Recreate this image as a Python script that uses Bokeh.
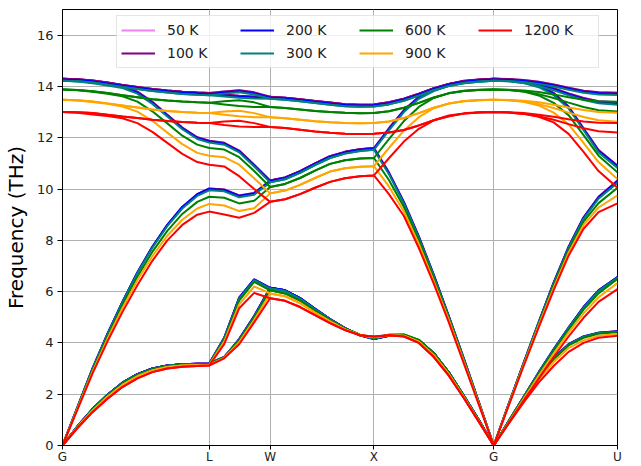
from bokeh.plotting import figure
from bokeh.models import FixedTicker, Legend, LegendItem, Range1d
from bokeh.embed import file_html
from bokeh.resources import INLINE

# path coordinate (distance along G-L-W-X-G-U)
kpath = [0.0, 0.15, 0.30, 0.45, 0.60, 0.75, 0.90, 1.05, 1.20, 1.35, 1.47,
         1.62, 1.77, 1.92, 2.08,
         2.23, 2.38, 2.53, 2.68, 2.83, 2.98, 3.12,
         3.27, 3.42, 3.57, 3.72, 3.87, 4.02, 4.17, 4.32,
         4.47, 4.62, 4.77, 4.92, 5.07, 5.22, 5.37, 5.56]
tick_pos = [0.0, 1.47, 2.08, 3.12, 4.32, 5.56]
tick_labels = ["G", "L", "W", "X", "G", "U"]

temps = ["50 K", "100 K", "200 K", "300 K", "600 K", "900 K", "1200 K"]
colors = ["violet", "purple", "blue", "teal", "green", "orange", "red"]

# ---- 50 K (hidden under 100 K) ----
t50 = [
 [0, 0.75, 1.42, 1.98, 2.45, 2.78, 3.0, 3.12, 3.17, 3.19, 3.2, 3.45, 4.15, 5.05, 6.15,
  6.05, 5.75, 5.33, 4.93, 4.58, 4.3, 4.15, 4.28, 4.3, 4.1, 3.6, 2.85, 1.95, 1.0, 0,
  0.93, 1.83, 2.7, 3.42, 3.95, 4.25, 4.4, 4.45],
 [0, 0.75, 1.42, 1.98, 2.45, 2.78, 3.0, 3.12, 3.17, 3.19, 3.2, 4.2, 5.77, 6.48, 6.15,
  6.05, 5.75, 5.33, 4.93, 4.58, 4.3, 4.15, 4.28, 4.3, 4.1, 3.6, 2.85, 1.95, 1.0, 0,
  0.95, 1.9, 2.85, 3.75, 4.6, 5.4, 6.05, 6.57],
 [0, 1.5, 3.0, 4.35, 5.6, 6.75, 7.75, 8.6, 9.3, 9.8, 10.02, 9.98, 9.75, 9.85, 10.33,
  10.45, 10.7, 11.0, 11.28, 11.45, 11.55, 11.6, 10.65, 9.5, 8.15, 6.65, 5.05, 3.4, 1.7, 0,
  1.62, 3.22, 4.8, 6.35, 7.75, 8.9, 9.7, 10.33],
 [14.3, 14.27, 14.2, 14.12, 14.02, 13.8, 13.4, 12.9, 12.4, 12.02, 11.88, 11.8, 11.5, 10.95, 10.33,
  10.45, 10.7, 11.0, 11.28, 11.45, 11.55, 11.6, 12.37, 13.08, 13.6, 13.9, 14.1, 14.22, 14.27, 14.3,
  14.28, 14.21, 14.05, 13.75, 13.22, 12.37, 11.52, 10.91],
 [14.3, 14.28, 14.23, 14.15, 14.06, 13.98, 13.9, 13.84, 13.79, 13.76, 13.74, 13.69, 13.64, 13.61, 13.6,
  13.56, 13.5, 13.43, 13.37, 13.31, 13.29, 13.3, 13.38, 13.52, 13.72, 13.93, 14.1, 14.2, 14.26, 14.3,
  14.28, 14.21, 14.1, 13.93, 13.73, 13.55, 13.42, 13.37],
 [14.3, 14.28, 14.23, 14.15, 14.06, 13.98, 13.9, 13.84, 13.79, 13.76, 13.74, 13.8, 13.85, 13.77, 13.6,
  13.56, 13.5, 13.43, 13.37, 13.31, 13.29, 13.3, 13.38, 13.52, 13.72, 13.93, 14.1, 14.2, 14.26, 14.3,
  14.29, 14.25, 14.18, 14.08, 13.95, 13.83, 13.77, 13.75],
]

# ---- 100 K ----
t100 = [
 [0, 0.75, 1.42, 1.98, 2.45, 2.78, 3.0, 3.12, 3.17, 3.19, 3.2, 3.45, 4.15, 5.05, 6.15,
  6.05, 5.75, 5.33, 4.93, 4.58, 4.3, 4.15, 4.28, 4.3, 4.1, 3.6, 2.85, 1.95, 1.0, 0,
  0.93, 1.83, 2.7, 3.42, 3.95, 4.25, 4.4, 4.45],
 [0, 0.75, 1.42, 1.98, 2.45, 2.78, 3.0, 3.12, 3.17, 3.19, 3.2, 4.2, 5.77, 6.48, 6.15,
  6.05, 5.75, 5.33, 4.93, 4.58, 4.3, 4.15, 4.28, 4.3, 4.1, 3.6, 2.85, 1.95, 1.0, 0,
  0.95, 1.9, 2.85, 3.75, 4.6, 5.4, 6.05, 6.57],
 [0, 1.5, 3.0, 4.35, 5.6, 6.75, 7.75, 8.6, 9.3, 9.8, 10.02, 9.98, 9.75, 9.85, 10.33,
  10.45, 10.7, 11.0, 11.28, 11.45, 11.55, 11.6, 10.65, 9.5, 8.15, 6.65, 5.05, 3.4, 1.7, 0,
  1.62, 3.22, 4.8, 6.35, 7.75, 8.9, 9.7, 10.33],
 [14.3, 14.27, 14.2, 14.12, 14.02, 13.8, 13.4, 12.9, 12.4, 12.02, 11.88, 11.8, 11.5, 10.95, 10.33,
  10.45, 10.7, 11.0, 11.28, 11.45, 11.55, 11.6, 12.37, 13.08, 13.6, 13.9, 14.1, 14.22, 14.27, 14.3,
  14.28, 14.21, 14.05, 13.75, 13.22, 12.37, 11.52, 10.91],
 [14.3, 14.28, 14.23, 14.15, 14.06, 13.98, 13.9, 13.84, 13.79, 13.76, 13.74, 13.69, 13.64, 13.61, 13.6,
  13.56, 13.5, 13.43, 13.37, 13.31, 13.29, 13.3, 13.38, 13.52, 13.72, 13.93, 14.1, 14.2, 14.26, 14.3,
  14.28, 14.21, 14.1, 13.93, 13.73, 13.55, 13.42, 13.37],
 [14.3, 14.28, 14.23, 14.15, 14.06, 13.98, 13.9, 13.84, 13.79, 13.76, 13.74, 13.8, 13.85, 13.77, 13.6,
  13.56, 13.5, 13.43, 13.37, 13.31, 13.29, 13.3, 13.38, 13.52, 13.72, 13.93, 14.1, 14.2, 14.26, 14.3,
  14.29, 14.25, 14.18, 14.08, 13.95, 13.83, 13.77, 13.75],
]

# ---- 200 K ----
t200 = [
 [0, 0.75, 1.42, 1.98, 2.45, 2.78, 3.0, 3.12, 3.17, 3.19, 3.2, 3.45, 4.15, 5.05, 6.15,
  6.05, 5.75, 5.33, 4.93, 4.58, 4.3, 4.16, 4.28, 4.3, 4.1, 3.6, 2.85, 1.95, 1.0, 0,
  0.93, 1.83, 2.7, 3.42, 3.95, 4.25, 4.4, 4.45],
 [0, 0.75, 1.42, 1.98, 2.45, 2.78, 3.0, 3.12, 3.17, 3.19, 3.2, 4.2, 5.77, 6.48, 6.15,
  6.05, 5.75, 5.33, 4.93, 4.58, 4.3, 4.16, 4.28, 4.3, 4.1, 3.6, 2.85, 1.95, 1.0, 0,
  0.95, 1.9, 2.85, 3.75, 4.6, 5.4, 6.05, 6.57],
 [0, 1.5, 3.0, 4.35, 5.6, 6.75, 7.75, 8.6, 9.3, 9.8, 10.0, 9.96, 9.73, 9.83, 10.3,
  10.42, 10.67, 10.97, 11.25, 11.42, 11.52, 11.57, 10.62, 9.47, 8.13, 6.63, 5.04, 3.39, 1.7, 0,
  1.62, 3.22, 4.8, 6.34, 7.73, 8.88, 9.67, 10.3],
 [14.26, 14.23, 14.16, 14.08, 13.98, 13.76, 13.36, 12.87, 12.37, 11.99, 11.85, 11.77, 11.47, 10.92, 10.3,
  10.42, 10.67, 10.97, 11.25, 11.42, 11.52, 11.57, 12.33, 13.04, 13.56, 13.86, 14.06, 14.18, 14.23, 14.26,
  14.24, 14.17, 14.01, 13.71, 13.18, 12.33, 11.48, 10.88],
 [14.26, 14.24, 14.19, 14.11, 14.02, 13.94, 13.86, 13.8, 13.75, 13.72, 13.7, 13.65, 13.6, 13.57, 13.56,
  13.52, 13.46, 13.39, 13.33, 13.27, 13.25, 13.26, 13.34, 13.48, 13.68, 13.89, 14.06, 14.16, 14.22, 14.26,
  14.24, 14.17, 14.06, 13.89, 13.69, 13.51, 13.38, 13.33],
 [14.26, 14.24, 14.19, 14.11, 14.02, 13.94, 13.86, 13.8, 13.75, 13.72, 13.7, 13.76, 13.81, 13.73, 13.56,
  13.52, 13.46, 13.39, 13.33, 13.27, 13.25, 13.26, 13.34, 13.48, 13.68, 13.89, 14.06, 14.16, 14.22, 14.26,
  14.25, 14.21, 14.14, 14.04, 13.91, 13.79, 13.73, 13.71],
]

# ---- 300 K ----
t300 = [
 [0, 0.74, 1.41, 1.97, 2.44, 2.77, 2.99, 3.11, 3.16, 3.18, 3.19, 3.45, 4.13, 5.02, 6.12,
  6.02, 5.72, 5.31, 4.92, 4.57, 4.3, 4.17, 4.29, 4.31, 4.11, 3.6, 2.85, 1.94, 0.99, 0,
  0.93, 1.82, 2.69, 3.4, 3.93, 4.24, 4.39, 4.44],
 [0, 0.74, 1.41, 1.97, 2.44, 2.77, 2.99, 3.11, 3.16, 3.18, 3.19, 4.18, 5.73, 6.45, 6.12,
  6.02, 5.72, 5.31, 4.92, 4.57, 4.3, 4.17, 4.29, 4.31, 4.11, 3.6, 2.85, 1.94, 0.99, 0,
  0.95, 1.9, 2.84, 3.73, 4.58, 5.37, 6.02, 6.55],
 [0, 1.5, 2.99, 4.33, 5.58, 6.72, 7.71, 8.55, 9.24, 9.73, 9.95, 9.91, 9.68, 9.78, 10.26,
  10.38, 10.63, 10.93, 11.21, 11.38, 11.48, 11.53, 10.58, 9.43, 8.1, 6.61, 5.03, 3.38, 1.69, 0,
  1.61, 3.21, 4.79, 6.32, 7.7, 8.84, 9.62, 10.24],
 [14.22, 14.19, 14.12, 14.04, 13.94, 13.72, 13.32, 12.83, 12.33, 11.95, 11.81, 11.73, 11.43, 10.88, 10.26,
  10.38, 10.63, 10.93, 11.21, 11.38, 11.48, 11.53, 12.29, 13.0, 13.52, 13.82, 14.02, 14.14, 14.19, 14.22,
  14.2, 14.13, 13.97, 13.67, 13.14, 12.29, 11.43, 10.82],
 [14.22, 14.2, 14.15, 14.07, 13.98, 13.9, 13.82, 13.76, 13.71, 13.68, 13.66, 13.61, 13.56, 13.53, 13.52,
  13.48, 13.42, 13.35, 13.29, 13.23, 13.21, 13.22, 13.3, 13.44, 13.64, 13.85, 14.02, 14.12, 14.18, 14.22,
  14.2, 14.13, 14.02, 13.85, 13.65, 13.47, 13.34, 13.29],
 [14.22, 14.2, 14.15, 14.07, 13.98, 13.9, 13.82, 13.76, 13.71, 13.68, 13.66, 13.72, 13.77, 13.69, 13.52,
  13.48, 13.42, 13.35, 13.29, 13.23, 13.21, 13.22, 13.3, 13.44, 13.64, 13.85, 14.02, 14.12, 14.18, 14.22,
  14.21, 14.17, 14.1, 14.0, 13.87, 13.75, 13.69, 13.67],
]

# ---- 600 K ----
t600 = [
 [0, 0.73, 1.39, 1.94, 2.41, 2.74, 2.97, 3.09, 3.15, 3.17, 3.18, 3.44, 4.1, 4.98, 6.05,
  5.93, 5.65, 5.25, 4.88, 4.56, 4.32, 4.2, 4.32, 4.33, 4.12, 3.6, 2.84, 1.93, 0.98, 0,
  0.92, 1.8, 2.66, 3.36, 3.9, 4.2, 4.36, 4.42],
 [0, 0.73, 1.39, 1.94, 2.41, 2.74, 2.97, 3.09, 3.15, 3.17, 3.18, 4.12, 5.65, 6.38, 6.05,
  5.93, 5.65, 5.25, 4.88, 4.56, 4.32, 4.2, 4.32, 4.33, 4.12, 3.6, 2.84, 1.93, 0.98, 0,
  0.93, 1.87, 2.8, 3.68, 4.52, 5.3, 5.93, 6.5],
 [0, 1.47, 2.93, 4.25, 5.47, 6.58, 7.55, 8.37, 9.03, 9.5, 9.7, 9.66, 9.44, 9.54, 10.08,
  10.2, 10.43, 10.72, 10.98, 11.12, 11.19, 11.21, 10.35, 9.3, 8.0, 6.52, 4.97, 3.33, 1.67, 0,
  1.6, 3.18, 4.73, 6.25, 7.63, 8.73, 9.45, 10.05],
 [13.88, 13.85, 13.79, 13.71, 13.62, 13.41, 13.03, 12.56, 12.08, 11.73, 11.6, 11.54, 11.24, 10.7, 10.08,
  10.2, 10.43, 10.72, 10.98, 11.12, 11.19, 11.21, 11.95, 12.65, 13.2, 13.55, 13.74, 13.83, 13.87, 13.88,
  13.86, 13.8, 13.65, 13.36, 12.88, 12.1, 11.3, 10.65],
 [13.88, 13.86, 13.81, 13.74, 13.66, 13.58, 13.5, 13.45, 13.41, 13.38, 13.36, 13.3, 13.24, 13.2, 13.2,
  13.16, 13.1, 13.04, 13.0, 12.97, 12.95, 12.96, 13.03, 13.17, 13.36, 13.57, 13.73, 13.82, 13.86, 13.88,
  13.86, 13.8, 13.7, 13.55, 13.37, 13.2, 13.07, 13.02],
 [13.88, 13.86, 13.81, 13.74, 13.66, 13.58, 13.5, 13.45, 13.41, 13.38, 13.36, 13.42, 13.46, 13.38, 13.2,
  13.16, 13.1, 13.04, 13.0, 12.97, 12.95, 12.96, 13.03, 13.17, 13.36, 13.57, 13.73, 13.82, 13.86, 13.88,
  13.87, 13.84, 13.78, 13.69, 13.58, 13.48, 13.42, 13.4],
]

# ---- 900 K ----
t900 = [
 [0, 0.71, 1.36, 1.9, 2.36, 2.7, 2.93, 3.06, 3.12, 3.14, 3.15, 3.42, 4.03, 4.9, 5.93,
  5.82, 5.55, 5.18, 4.84, 4.53, 4.31, 4.22, 4.3, 4.28, 4.05, 3.52, 2.78, 1.89, 0.95, 0,
  0.89, 1.75, 2.57, 3.25, 3.8, 4.1, 4.28, 4.35],
 [0, 0.71, 1.36, 1.9, 2.36, 2.7, 2.93, 3.06, 3.12, 3.14, 3.15, 4.05, 5.5, 6.2, 5.93,
  5.82, 5.55, 5.18, 4.84, 4.53, 4.31, 4.22, 4.3, 4.28, 4.05, 3.52, 2.78, 1.89, 0.95, 0,
  0.9, 1.82, 2.72, 3.58, 4.4, 5.15, 5.78, 6.33],
 [0, 1.44, 2.87, 4.16, 5.35, 6.44, 7.38, 8.18, 8.8, 9.24, 9.42, 9.36, 9.14, 9.25, 9.83,
  9.94, 10.16, 10.43, 10.68, 10.81, 10.87, 10.89, 10.1, 9.12, 7.85, 6.4, 4.9, 3.27, 1.64, 0,
  1.58, 3.14, 4.67, 6.15, 7.52, 8.6, 9.28, 9.75],
 [13.48, 13.45, 13.39, 13.32, 13.22, 13.02, 12.66, 12.2, 11.75, 11.41, 11.3, 11.24, 10.95, 10.42, 9.83,
  9.94, 10.16, 10.43, 10.68, 10.81, 10.87, 10.89, 11.6, 12.28, 12.8, 13.15, 13.34, 13.43, 13.47, 13.48,
  13.46, 13.4, 13.26, 12.98, 12.52, 11.8, 11.05, 10.39],
 [13.48, 13.46, 13.41, 13.34, 13.26, 13.18, 13.1, 13.04, 13.0, 12.97, 12.96, 12.9, 12.84, 12.8, 12.8,
  12.76, 12.7, 12.64, 12.6, 12.57, 12.56, 12.57, 12.63, 12.77, 12.96, 13.17, 13.33, 13.42, 13.46, 13.48,
  13.46, 13.41, 13.31, 13.16, 12.98, 12.81, 12.68, 12.62],
 [13.48, 13.46, 13.41, 13.34, 13.26, 13.18, 13.1, 13.04, 13.0, 12.97, 12.96, 13.02, 13.05, 12.96, 12.8,
  12.76, 12.7, 12.64, 12.6, 12.57, 12.56, 12.57, 12.63, 12.77, 12.96, 13.17, 13.33, 13.42, 13.46, 13.48,
  13.47, 13.44, 13.38, 13.29, 13.18, 13.08, 13.0, 12.97],
]

# ---- 1200 K ----
t1200 = [
 [0, 0.68, 1.3, 1.82, 2.28, 2.62, 2.86, 3.0, 3.07, 3.1, 3.12, 3.4, 3.95, 4.8, 5.74,
  5.64, 5.4, 5.08, 4.77, 4.5, 4.3, 4.25, 4.3, 4.25, 4.0, 3.45, 2.72, 1.85, 0.93, 0,
  0.85, 1.68, 2.45, 3.1, 3.65, 4.0, 4.2, 4.28],
 [0, 0.68, 1.3, 1.82, 2.28, 2.62, 2.86, 3.0, 3.07, 3.1, 3.12, 3.95, 5.35, 5.95, 5.74,
  5.64, 5.4, 5.08, 4.77, 4.5, 4.3, 4.25, 4.3, 4.25, 4.0, 3.45, 2.72, 1.85, 0.93, 0,
  0.88, 1.75, 2.6, 3.45, 4.25, 4.98, 5.6, 6.1],
 [0, 1.4, 2.8, 4.05, 5.2, 6.25, 7.2, 8.0, 8.6, 9.0, 9.12, 9.01, 8.88, 9.07, 9.5,
  9.6, 9.8, 10.05, 10.28, 10.42, 10.5, 10.53, 9.8, 8.95, 7.7, 6.3, 4.8, 3.2, 1.6, 0,
  1.55, 3.1, 4.6, 6.05, 7.4, 8.45, 9.1, 9.44],
 [13.0, 12.97, 12.91, 12.85, 12.76, 12.57, 12.23, 11.8, 11.37, 11.05, 10.95, 10.88, 10.5, 10.0, 9.5,
  9.6, 9.8, 10.05, 10.28, 10.42, 10.5, 10.53, 11.2, 11.85, 12.35, 12.68, 12.87, 12.95, 12.99, 13.0,
  12.98, 12.93, 12.82, 12.6, 12.15, 11.45, 10.7, 10.05],
 [13.0, 12.99, 12.96, 12.9, 12.83, 12.77, 12.7, 12.65, 12.61, 12.58, 12.57, 12.5, 12.44, 12.42, 12.42,
  12.38, 12.31, 12.24, 12.19, 12.16, 12.15, 12.16, 12.2, 12.3, 12.48, 12.68, 12.84, 12.94, 12.98, 13.0,
  12.98, 12.93, 12.84, 12.7, 12.53, 12.37, 12.25, 12.2],
 [13.0, 12.99, 12.96, 12.9, 12.83, 12.77, 12.7, 12.65, 12.61, 12.58, 12.57, 12.63, 12.66, 12.57, 12.42,
  12.38, 12.31, 12.24, 12.19, 12.16, 12.15, 12.16, 12.2, 12.3, 12.48, 12.68, 12.84, 12.94, 12.98, 13.0,
  12.99, 12.96, 12.9, 12.82, 12.72, 12.63, 12.58, 12.57],
]

all_bands = [t50, t100, t200, t300, t600, t900, t1200]

FONT = "DejaVu Sans"

p = figure(width=641, height=466, output_backend="svg", toolbar_location=None,
           x_range=Range1d(0, 5.56), y_range=Range1d(0, 17),
           min_border_left=61, min_border_right=24, min_border_top=9, min_border_bottom=19)
p.background_fill_color = "white"
p.border_fill_color = "white"
p.outline_line_color = "black"
p.outline_line_width = 1

items = []
for label, color, bands in zip(temps, colors, all_bands):
    r = p.multi_line(xs=[kpath] * len(bands), ys=bands, line_color=color, line_width=2)
    items.append(LegendItem(label=label, renderers=[r]))

# axes
p.xaxis.ticker = FixedTicker(ticks=tick_pos)
p.xaxis.major_label_overrides = {pos: lab for pos, lab in zip(tick_pos, tick_labels)}
p.yaxis.ticker = FixedTicker(ticks=list(range(0, 17, 2)))
p.yaxis.axis_label = "Frequency (THz)"
p.yaxis.axis_label_text_font = FONT
p.yaxis.axis_label_text_font_size = "20px"
p.yaxis.axis_label_text_font_style = "normal"
p.yaxis.axis_label_text_color = "black"
p.yaxis.axis_label_standoff = 6
for ax in (p.xaxis[0], p.yaxis[0]):
    ax.major_label_text_font = FONT
    ax.minor_tick_line_color = None
    ax.major_tick_in = 0
    ax.major_tick_line_color = "black"
    ax.axis_line_color = "black"
    ax.major_label_text_color = "#222222"
p.yaxis.major_label_text_font_size = "13px"
p.yaxis.major_tick_out = 5
p.yaxis.major_label_standoff = 4
p.xaxis.major_label_text_font_size = "12px"
p.xaxis.major_tick_out = 4
p.xaxis.major_label_standoff = 0

p.xgrid.ticker = FixedTicker(ticks=tick_pos)
p.ygrid.ticker = FixedTicker(ticks=list(range(0, 17, 2)))
p.grid.grid_line_color = "#b0b0b0"
p.grid.grid_line_width = 1

legend = Legend(items=items, location=(54, 377), orientation="vertical", nrows=2,
                label_text_font=FONT, label_text_font_size="14px", label_text_color="#222222",
                glyph_width=34, glyph_height=20, label_height=20, label_width=70,
                label_standoff=12, spacing=3, padding=4, margin=0,
                border_line_color="#cccccc", border_line_width=1,
                background_fill_color="white", background_fill_alpha=0.8)
p.add_layout(legend)

open("out.html", "w").write(file_html(p, INLINE))
